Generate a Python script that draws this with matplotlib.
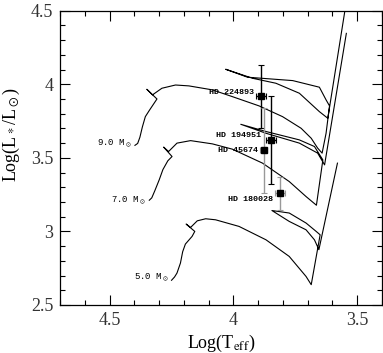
import matplotlib
matplotlib.use("Agg")
import matplotlib.pyplot as plt
from matplotlib.ticker import MultipleLocator, FuncFormatter

plt.rcParams['font.family'] = ['Liberation Serif', 'DejaVu Serif']
plt.rcParams['mathtext.fontset'] = 'stix'

# evolutionary tracks (log Teff, log L)
t5_logt = [4.250, 4.238, 4.228, 4.214, 4.205, 4.194, 4.167, 4.156, 4.191, 4.173, 4.146, 4.112,
           4.072, 3.977, 3.868, 3.774, 3.706, 3.685, 3.649, 3.665, 3.706, 3.774, 3.844,
           3.774, 3.706, 3.672, 3.654, 3.579]
t5_logl = [2.668, 2.690, 2.717, 2.785, 2.862, 2.914, 2.966, 3.000, 3.050, 3.027, 3.072, 3.086,
           3.079, 3.034, 2.943, 2.830, 2.694, 2.638, 2.977, 3.000, 3.057, 3.125, 3.142,
           3.068, 3.011, 2.943, 2.876, 3.464]

t7_logt = [4.340, 4.330, 4.318, 4.300, 4.285, 4.265, 4.248, 4.282, 4.262, 4.228, 4.173, 4.085,
           4.004, 3.882, 3.774, 3.706, 3.664, 3.638, 3.672, 3.733, 3.868, 3.970,
           3.868, 3.733, 3.659, 3.631, 3.543]
t7_logl = [3.212, 3.228, 3.275, 3.350, 3.420, 3.480, 3.509, 3.573, 3.543, 3.600, 3.617, 3.595,
           3.559, 3.464, 3.339, 3.237, 3.178, 3.486, 3.577, 3.622, 3.679, 3.728,
           3.667, 3.600, 3.532, 3.452, 4.346]

t9_logt = [4.398, 4.387, 4.378, 4.368, 4.356, 4.340, 4.309, 4.350, 4.327, 4.289, 4.234, 4.180,
           4.085, 4.004, 3.896, 3.801, 3.726, 3.685, 3.659, 3.641, 3.625, 3.611,
           3.625, 3.652, 3.760, 3.943, 4.031, 3.923, 3.828, 3.733, 3.652, 3.618, 3.546]
t9_logl = [3.585, 3.598, 3.640, 3.710, 3.780, 3.822, 3.900, 3.966, 3.928, 3.973, 3.995, 3.989,
           3.962, 3.916, 3.853, 3.780, 3.701, 3.633, 3.566, 3.532, 3.667, 3.853,
           3.894, 3.980, 4.025, 4.048, 4.102, 4.041, 4.007, 3.939, 3.814, 3.769, 4.530]

mass_labels = ["5.0 M$_\\odot$", "7.0 M$_\\odot$", "9.0 M$_\\odot$"]
mass_label_pos = [(4.262, 2.692), (4.356, 3.214), (4.411, 3.602)]

# stars
star_names = ["HD 224893", "HD 194951", "HD 45674", "HD 180028"]
star_logt = [3.889, 3.848, 3.878, 3.812]
star_logl = [3.923, 3.622, 3.554, 3.260]
star_logt_err = [0.02, 0.02, 0.015, 0.02]
star_logl_lo = [3.700, 3.322, 3.260, 3.147]
star_logl_hi = [4.131, 3.920, 3.840, 3.369]
star_colors = ["black", "black", "#999999", "#999999"]
star_label_pos = [(3.916, 3.943), (3.889, 3.649), (3.902, 3.550), (3.839, 3.215)]

fig = plt.figure(figsize=(3.83, 3.53), dpi=100)
ax = fig.add_axes([0.1574, 0.136, 0.8392, 0.8337])

for lt, ll in [(t5_logt, t5_logl), (t7_logt, t7_logl), (t9_logt, t9_logl)]:
    ax.plot(lt, ll, color='black', lw=0.8)

for txt, (x, y) in zip(mass_labels, mass_label_pos):
    ax.text(x, y, txt, family='Liberation Mono', fontsize=6.5, ha='right', va='center')

for i in range(len(star_names)):
    yerr = [[star_logl[i] - star_logl_lo[i]], [star_logl_hi[i] - star_logl[i]]]
    ax.errorbar([star_logt[i]], [star_logl[i]], yerr=yerr, xerr=star_logt_err[i],
                fmt='none', ecolor=star_colors[i], elinewidth=1.0, capsize=2, capthick=0.8)
    ax.plot(star_logt[i], star_logl[i], 's', color='black', ms=4.5)
    lx, ly = star_label_pos[i]
    ax.text(lx, ly, star_names[i], family='Liberation Mono', fontsize=6,
            ha='right', va='center', weight='bold')

ax.set_xlim(4.70, 3.40)
ax.set_ylim(2.5, 4.5)
ax.xaxis.set_major_locator(MultipleLocator(0.5))
ax.xaxis.set_minor_locator(MultipleLocator(0.1))
ax.yaxis.set_major_locator(MultipleLocator(0.5))
ax.yaxis.set_minor_locator(MultipleLocator(0.1))
fmt = FuncFormatter(lambda v, p: '%g' % v)
ax.xaxis.set_major_formatter(fmt)
ax.yaxis.set_major_formatter(fmt)
ax.tick_params(which='both', direction='in', top=True, right=True, labelsize=13, width=0.8,
               labelcolor='#333333')
ax.tick_params(which='major', length=7, pad=5)
ax.tick_params(which='minor', length=3.5)
for s in ax.spines.values():
    s.set_linewidth(0.9)

ax.set_xlabel("Log(T$_{\\rm eff}$)", fontsize=13)
ax.set_ylabel("Log(L$_*$/L$_\\odot$)", fontsize=13)
ax.xaxis.set_label_coords(0.5, -0.095)
ax.yaxis.set_label_coords(-0.12, 0.58)

fig.savefig("out.png", dpi=100)
